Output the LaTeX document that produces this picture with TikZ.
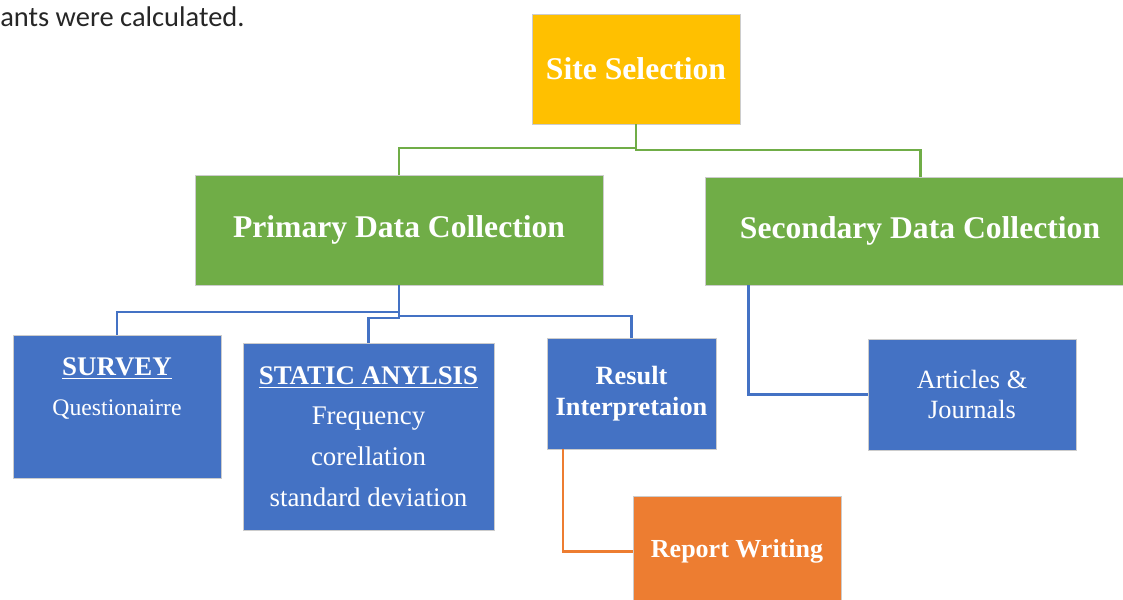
\documentclass[tikz,border=0pt]{standalone}
\usepackage{fontspec}
\setmainfont{Liberation Serif}
\newfontfamily\bodyfont{Carlito}
\definecolor{cyel}{HTML}{FFC000}
\definecolor{cgrn}{HTML}{70AD47}
\definecolor{cblu}{HTML}{4472C4}
\definecolor{corg}{HTML}{ED7D31}
\begin{document}
\begin{tikzpicture}[x=0.02cm,y=-0.02cm,
  box/.style={draw=white!80!black, line width=0.4pt, inner sep=0pt, text=white, align=center},
  gl/.style={draw=cgrn, line width=1.7pt},
  bl/.style={draw=cblu, line width=1.7pt},
  ol/.style={draw=corg, line width=1.7pt}]
\useasboundingbox (0,0) rectangle (1123,599);
\clip (0,0) rectangle (1123,599);
\node[anchor=base west, inner sep=0pt, font=\bodyfont\fontsize{16.2}{19}\selectfont, text=black!85] (note) at (0,26) {ants were calculated.};
% boxes
\node[box, fill=cyel, minimum width=208*0.02cm, minimum height=110*0.02cm,
      font=\bfseries\fontsize{18}{21}\selectfont] (site) at (636,69) {Site Selection};
\node[box, fill=cgrn, minimum width=408*0.02cm, minimum height=110*0.02cm,
      font=\bfseries\fontsize{18}{21}\selectfont] (prim) at (399,230) {Primary Data Collection};
\node[box, fill=cgrn, minimum width=430*0.02cm, minimum height=108*0.02cm,
      font=\bfseries\fontsize{18}{21}\selectfont] (sec) at (920,231) {Secondary Data Collection};
\node[box, fill=cblu, minimum width=208*0.02cm, minimum height=143*0.02cm,
      font=\fontsize{13.5}{22.5}\selectfont] (survey) at (117,406.5) {{\fontsize{15.3}{22.5}\selectfont\textbf{\underline{SURVEY}}}\\Questionairre\\\mbox{}};
\node[box, fill=cblu, minimum width=251*0.02cm, minimum height=187*0.02cm,
      font=\fontsize{15.3}{23.2}\selectfont] (static) at (368.5,436.5) {\textbf{\underline{STATIC\ ANYLSIS}}\\Frequency\\corellation\\standard deviation};
\node[box, fill=cblu, minimum width=169*0.02cm, minimum height=111*0.02cm,
      font=\bfseries\fontsize{15}{17.6}\selectfont] (result) at (631.5,393.5) {Result\\Interpretaion};
\node[box, fill=cblu, minimum width=208*0.02cm, minimum height=111*0.02cm,
      font=\fontsize{15}{17.3}\selectfont] (art) at (972,394.5) {Articles \&\\Journals};
\node[box, fill=corg, minimum width=208*0.02cm, minimum height=110*0.02cm,
      font=\bfseries\fontsize{14.8}{17}\selectfont] (report) at (737,551) {Report Writing};
% green connectors
\coordinate (gj) at (site.south |- 0,148);
\draw[gl] (site.south) -- (gj) -| (prim.north);
\draw[gl] (gj) -- ++(0,2) -| (sec.north);
% blue connectors
\coordinate (bj) at (prim.south |- 0,312);
\draw[bl] (prim.south) -- (bj) -| (survey.north);
\draw[bl] (bj) -- ++(0,4) coordinate (bj2) -| (result.north);
\draw[bl] (bj2) -- ++(0,2) -| (static.north);
\coordinate (sj) at (748,285);
\draw[bl] (sj) |- (art.west);
% orange connector
\coordinate (oj) at (563,449);
\draw[ol] (oj) |- (report.west);
\end{tikzpicture}
\end{document}
